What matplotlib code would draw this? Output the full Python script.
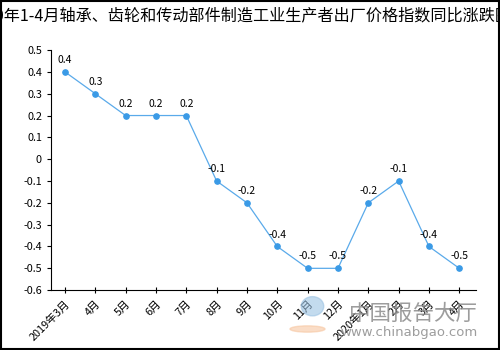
import matplotlib
matplotlib.use('Agg')
import matplotlib.pyplot as plt
from matplotlib.patches import Rectangle, Ellipse

plt.rcParams['font.family'] = ['Noto Sans CJK SC', 'DejaVu Sans']
plt.rcParams['axes.unicode_minus'] = False

# datos
meses = ['2019年3月', '4月', '5月', '6月', '7月', '8月', '9月', '10月', '11月', '12月',
         '2020年1月', '2月', '3月', '4月']
valores = [0.4, 0.3, 0.2, 0.2, 0.2, -0.1, -0.2, -0.4, -0.5, -0.5, -0.2, -0.1, -0.4, -0.5]
titulo = '2019-2020年1-4月轴承、齿轮和传动部件制造工业生产者出厂价格指数同比涨跌图'

fig = plt.figure(figsize=(5, 3.5), dpi=100)
ax = fig.add_axes([0.102, 0.171, 0.85, 0.686])

x = list(range(len(meses)))
ax.plot(x, valores, color='#5aaaea', lw=0.9, marker='o', ms=3.8,
        mfc='#3a9ae6', mec='#3a9ae6')
for xi, v in zip(x, valores):
    ax.annotate(f'{v:g}', (xi, v), xytext=(0, 5), textcoords='offset points',
                ha='center', va='bottom', fontsize=7.5)

ax.set_xlim(-0.46, 13.55)
ax.set_ylim(-0.6, 0.5)
ax.set_yticks([0.5, 0.4, 0.3, 0.2, 0.1, 0, -0.1, -0.2, -0.3, -0.4, -0.5, -0.6])
ax.set_yticklabels(['0.5', '0.4', '0.3', '0.2', '0.1', '0', '-0.1', '-0.2', '-0.3',
                    '-0.4', '-0.5', '-0.6'])
ax.set_xticks(x)
ax.set_xticklabels(meses, rotation=45, ha='right', rotation_mode='anchor')
ax.tick_params(axis='both', labelsize=7.8, length=3)
ax.tick_params(axis='x', direction='inout', length=5)
for s in ['top', 'right']:
    ax.spines[s].set_visible(False)

# título, más ancho que la figura (queda cortado como en el original)
fig.text(1.022, 0.954, titulo, ha='right', va='center', fontsize=11.6)

# marca de agua
fig.patches.append(Ellipse((0.625, 0.125), 0.045, 0.055, transform=fig.transFigure,
                           color='#9cc3e3', alpha=0.6))
fig.patches.append(Ellipse((0.615, 0.06), 0.07, 0.018, transform=fig.transFigure,
                           color='#f7c7a2', alpha=0.6))
fig.text(0.955, 0.103, '中国报告大厅', ha='right', va='center', fontsize=15.5,
         color='#8c8c8c', alpha=0.85)
fig.text(0.955, 0.049, 'www.chinabgao.com', ha='right', va='center', fontsize=9.5,
         color='#8c8c8c', alpha=0.85, family='DejaVu Sans')

fig.patches.append(Rectangle((0.002, 0.003), 0.996, 0.994, transform=fig.transFigure,
                             fill=False, edgecolor='black', lw=1.5))
fig.savefig('out.png', dpi=100)
